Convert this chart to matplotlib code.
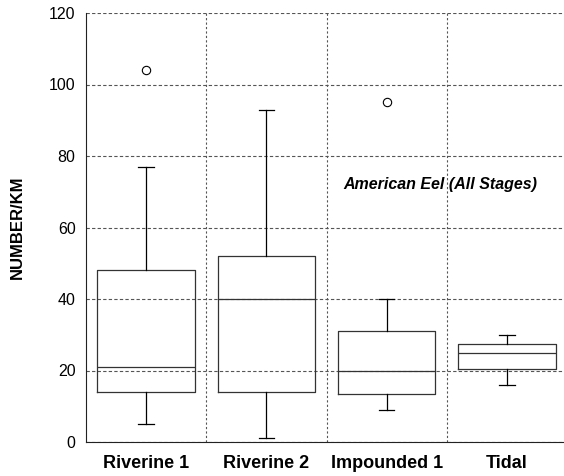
import matplotlib
matplotlib.use("Agg")
import matplotlib.pyplot as plt

plt.rcParams['font.family'] = ['Liberation Sans', 'DejaVu Sans']

groups = ["Riverine 1", "Riverine 2", "Impounded 1", "Tidal"]
whislo = [5, 1.2, 9, 16]
q1 = [14, 14, 13.5, 20.5]
med = [21, 40, 20, 25]
q3 = [48, 52, 31, 27.5]
whishi = [77, 93, 40, 30]
fliers = [[104], [], [95], []]

stats = []
for i in range(len(groups)):
    stats.append(dict(label=groups[i], whislo=whislo[i], q1=q1[i], med=med[i],
                      q3=q3[i], whishi=whishi[i], fliers=fliers[i]))

fig = plt.figure(figsize=(5.64, 4.76), dpi=100)
ax = fig.add_axes([86/564, 34/476, 481/564, 429/476])

lc = "#333333"
ax.bxp(stats, positions=[1, 2, 3, 4], widths=0.81, capwidths=0.13,
       boxprops=dict(color=lc, linewidth=0.9),
       medianprops=dict(color=lc, linewidth=0.9),
       whiskerprops=dict(color="black", linewidth=0.9),
       capprops=dict(color="black", linewidth=0.9),
       flierprops=dict(marker="o", markersize=6, markerfacecolor="none",
                       markeredgecolor="black", markeredgewidth=0.8))

ax.set_xlim(0.5, 4.5)
ax.set_ylim(0, 120)
ax.set_yticks([0, 20, 40, 60, 80, 100, 120])
ax.set_xticks([1.5, 2.5, 3.5], minor=True)
ax.set_xticks([1, 2, 3, 4])
ax.set_xticklabels(groups, fontsize=13, fontweight="bold")
ax.tick_params(axis="y", labelsize=11.5, length=0, pad=7.5)
ax.tick_params(axis="x", which="both", length=0, pad=9)
ax.yaxis.grid(True, linestyle=(0, (3, 2)), color="#555555", linewidth=0.8)
ax.xaxis.grid(True, which="minor", linestyle=(0, (2, 2)), color="#555555", linewidth=0.8)
ax.xaxis.grid(False, which="major")
ax.set_axisbelow(True)
for s in ["top", "right"]:
    ax.spines[s].set_visible(False)
ax.spines["left"].set_color("#222222")
ax.spines["bottom"].set_color("#222222")

ax.set_ylabel("NUMBER/KM", fontsize=12, fontweight="bold")
ax.yaxis.set_label_coords(-0.127, 0.5)
ax.text(3.45, 72, "American Eel (All Stages)", fontsize=11.5, fontweight="bold",
        fontstyle="italic", ha="center", va="center")

fig.savefig("out.png", dpi=100)
